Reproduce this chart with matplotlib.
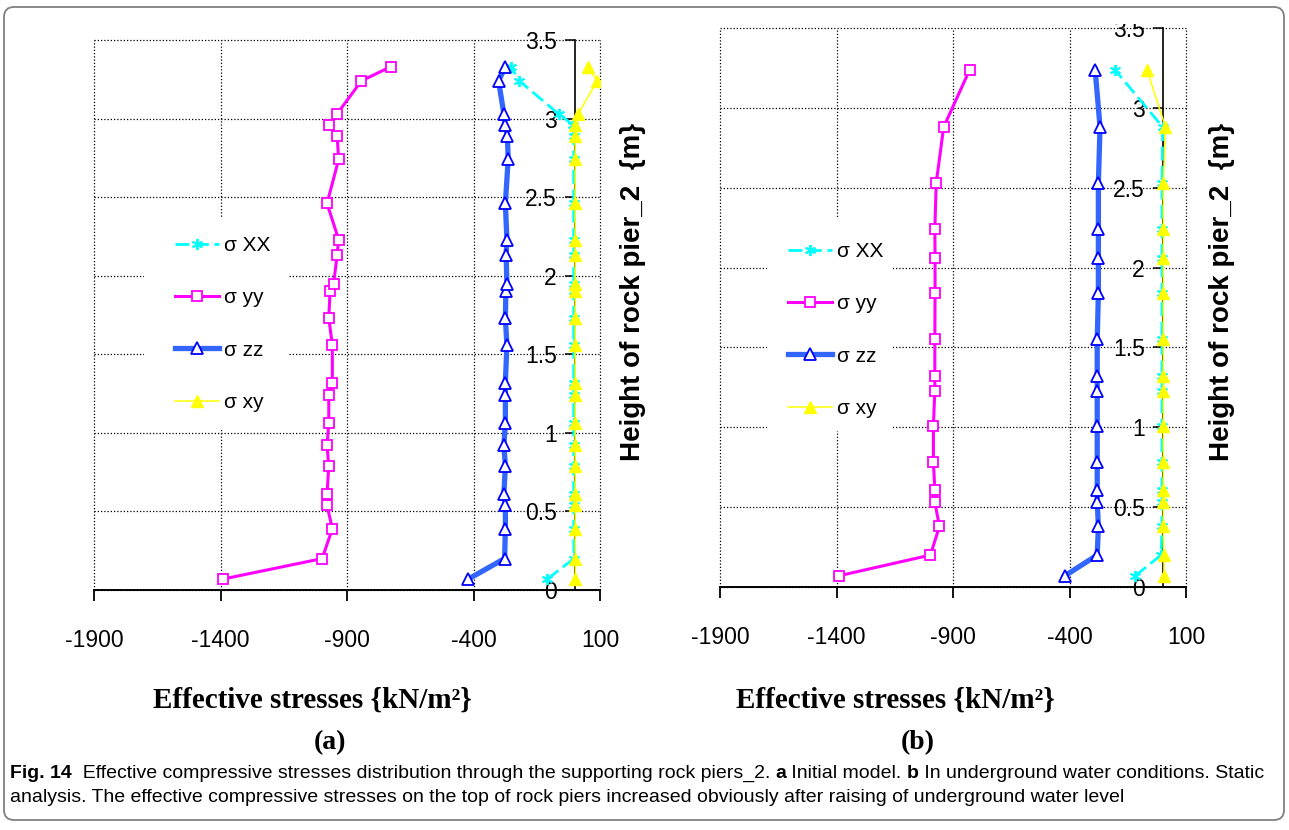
import matplotlib
matplotlib.use("Agg")
import matplotlib.pyplot as plt
import matplotlib.transforms as mtransforms
from matplotlib.patches import FancyBboxPatch, Rectangle

# heights of the sampling points along the pier (m)
height_a = [0.07, 0.20, 0.39, 0.54, 0.61, 0.79, 0.92, 1.06, 1.24, 1.32, 1.56, 1.73,
            1.90, 1.95, 2.13, 2.23, 2.46, 2.74, 2.89, 2.96, 3.03, 3.24, 3.33]
height_b = [0.07, 0.20, 0.38, 0.53, 0.61, 0.78, 1.01, 1.23, 1.32, 1.55, 1.84, 2.06,
            2.24, 2.53, 2.88, 3.24]

# (a) initial model, effective stresses kN/m2
sxx_a = [-108, -3, -4, -4, -4, -4, -4, -4, -4, -4, -4, -4,
         -4, -4, -4, -4, -4, -4, -4, -7, -64, -219, -253]
syy_a = [-1389, -998, -958, -979, -979, -972, -979, -972, -972, -958, -958, -972,
         -967, -953, -939, -933, -979, -933, -939, -972, -939, -843, -727]
szz_a = [-420, -277, -274, -274, -280, -274, -280, -274, -274, -274, -268, -274,
         -272, -268, -271, -268, -274, -263, -266, -274, -280, -301, -274]
sxy_a = [2, 3, 2, 2, 2, 2, 2, 2, 2, 2, 2, 2,
         2, 2, 2, 2, 2, 2, 2, 1, 14, 89, 51]

# (b) underground water conditions
sxx_b = [-118, -7, -3, -3, -3, -3, -3, -3, -3, -3, -3, -3, -3, -3, 0, -206]
syy_b = [-1390, -997, -958, -978, -978, -984, -984, -978, -978, -978, -977, -977,
         -978, -972, -940, -828]
szz_b = [-420, -281, -276, -281, -281, -281, -281, -281, -281, -281, -276, -276,
         -276, -276, -269, -290]
sxy_b = [6, 5, 3, 3, 3, 3, 3, 3, 3, 3, 3, 3, 3, 3, 12, -68]

x_ticks = [-1900, -1400, -900, -400, 100]
y_ticks = [0, 0.5, 1, 1.5, 2, 2.5, 3, 3.5]
y_tick_labels = ['0', '0.5', '1', '1.5', '2', '2.5', '3', '3.5']

SANS = ['Liberation Sans', 'DejaVu Sans']
SERIF = ['Liberation Serif', 'DejaVu Serif']
plt.rcParams['font.family'] = SANS

W, H = 1289, 830
fig = plt.figure(figsize=(W / 100, H / 100), dpi=100)
px = mtransforms.IdentityTransform()


def panel(box, hs, xx, yy, zz, xy, leg_box, leg_at, ylab_x, xlab_x, tag_x, tag):
    l, t, r, b = box  # pixels from the top-left corner
    ax = fig.add_axes([l / W, 1 - b / H, (r - l) / W, (b - t) / H])

    ax.plot(xx, hs, color='#00FFFF', lw=2.0, dashes=(5, 2), marker=(6, 2, 0),
            ms=8, mew=1.4, mec='#00FFFF', label='σ XX', zorder=3)
    ax.plot(yy, hs, color='#FF00FF', lw=2.2, marker='s', ms=7, mfc='white',
            mec='#FF00FF', mew=1.3, label='σ yy', zorder=3)
    ax.plot(zz, hs, color='#3366FF', lw=3.8, marker='^', ms=8.5, mfc='white',
            mec='#0000FF', mew=1.3, label='σ zz', zorder=3)
    ax.plot(xy, hs, color='#FFFF00', lw=1.1, marker='^', ms=8.5, mfc='#FFFF00',
            mec='#FFFF00', label='σ xy', zorder=3)

    ax.set_xlim(-1900, 100)
    ax.set_ylim(0, 3.5)
    ax.set_xticks(x_ticks)
    ax.set_xticklabels([str(v) for v in x_ticks])
    ax.set_yticks(y_ticks)
    ax.set_yticklabels(y_tick_labels)

    for s in ('top', 'right'):
        ax.spines[s].set_visible(False)
    ax.spines['left'].set_position(('data', 0))
    ax.spines['left'].set_linewidth(1.2)
    ax.spines['left'].set_zorder(2.5)
    ax.spines['bottom'].set_linewidth(1.4)

    ax.tick_params(axis='x', direction='out', length=8, width=1.3, pad=20, labelsize=16.5)
    ax.tick_params(axis='y', direction='out', length=7, width=1.1, pad=6, labelsize=16.5)
    ax.grid(True, color='black', lw=0.9, linestyle=(0, (1, 1.6)), clip_on=False)
    ax.set_axisbelow(True)

    # white block behind the legend hides the grid there
    bl, bt, br, bb = leg_box
    ax.add_artist(Rectangle((bl, H - bb), br - bl, bb - bt, transform=px,
                            fc='white', ec='none', zorder=1, clip_on=False))
    leg = ax.legend(loc='upper left', bbox_to_anchor=(leg_at[0] / W, 1 - leg_at[1] / H),
                    bbox_transform=fig.transFigure, frameon=False, fontsize=15,
                    handlelength=2.1, handletextpad=0.25, labelspacing=1.6,
                    borderpad=0, borderaxespad=0, numpoints=1)
    leg.set_zorder(6)

    fig.text(ylab_x / W, 1 - 292 / H, 'Height of rock pier_2  {m}', rotation=90,
             ha='center', va='center', fontsize=20, fontweight='bold')
    fig.text(xlab_x / W, 1 - 700 / H, 'Effective stresses {kN/m²}', ha='center',
             va='center', family=SERIF, fontweight='bold', fontsize=21)
    fig.text(tag_x / W, 1 - 743 / H, tag, ha='center', va='center', family=SERIF,
             fontweight='bold', fontsize=20)
    return ax


panel((94, 40, 600, 590), height_a, sxx_a, syy_a, szz_a, sxy_a,
      (144, 217, 289, 430), (175, 236), 633, 312, 330, '(a)')
panel((720, 28, 1186, 587), height_b, sxx_b, syy_b, szz_b, sxy_b,
      (767, 218, 893, 431), (788, 242), 1222, 895, 918, '(b)')

# top of the right-hand "3.5" label is trimmed off
fig.add_artist(Rectangle((1105, H - 24), 70, 15, transform=px, fc='white', ec='none', zorder=10))

# rounded frame around the whole figure
fig.add_artist(FancyBboxPatch((4, 10), 1280, 813, boxstyle='round,pad=0,rounding_size=10',
                              transform=px, fill=False, ec='#808080', lw=1.3))

# caption, bold pieces set inline
CAP = ['Liberation Sans', 'DejaVu Sans']
line1 = [('Fig. 14', True),
         ('  Effective compressive stresses distribution through the supporting rock piers_2. ', False),
         ('a', True), (' Initial model. ', False), ('b', True),
         (' In underground water conditions. Static', False)]
line2 = [('analysis. The effective compressive stresses on the top of rock piers increased '
          'obviously after raising of underground water level', False)]

renderer = fig.canvas.get_renderer()


def rich(parts, x0, y_top, size):
    x = x0
    items = []
    for s, bold in parts:
        t = fig.text(x, H - y_top, s, transform=px, family=CAP, fontsize=size,
                     fontweight='bold' if bold else 'normal', va='baseline', ha='left')
        x += t.get_window_extent(renderer).width
        items.append(t)
    return x - x0, items


# size the caption so the first line spans the frame
w, items = rich(line1, 10, 778, 12)
for t in items:
    t.remove()
cap_size = 12 * 1252 / w
rich(line1, 10, 778, cap_size)
rich(line2, 10, 802, cap_size)

fig.savefig('out.png', dpi=100)
